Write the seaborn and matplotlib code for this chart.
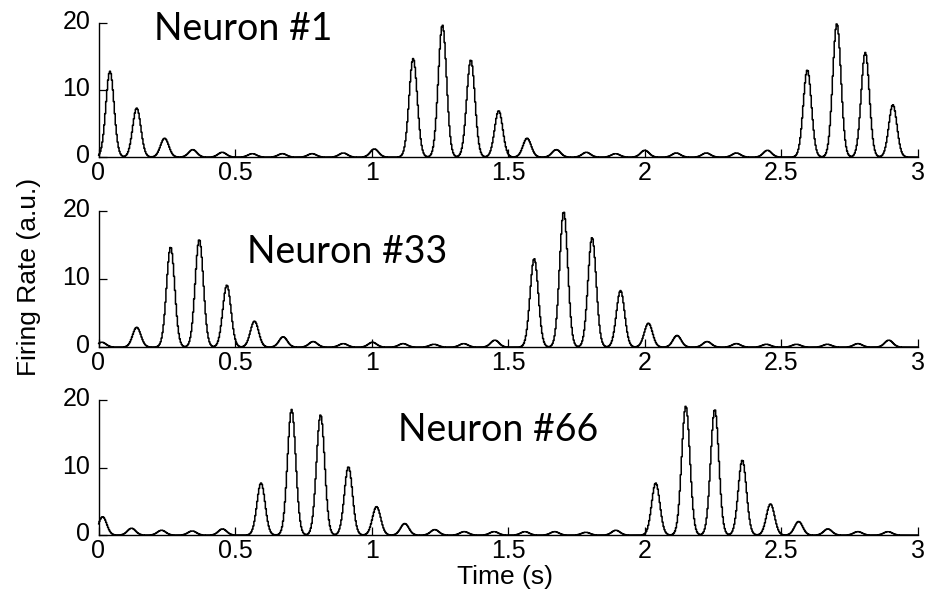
import numpy as np
import pandas as pd
import matplotlib
matplotlib.use("Agg")
import matplotlib.pyplot as plt
from matplotlib.transforms import ScaledTranslation
import seaborn as sns

# Peak times (s) and peak firing rates (a.u.) of each theta-cycle burst
neuron_names = ["Neuron #1", "Neuron #33", "Neuron #66"]

n1_peak_times = [0.042, 0.140, 0.242, 0.345, 0.453, 0.563, 0.673, 0.782, 0.896, 1.010,
                 1.152, 1.259, 1.363, 1.465, 1.569, 1.676, 1.786, 1.893, 2.000,
                 2.115, 2.225, 2.335, 2.449, 2.595, 2.703, 2.807, 2.908]
n1_peak_rates = [12.8, 7.3, 2.8, 1.1, 0.7, 0.5, 0.5, 0.5, 0.6, 1.2,
                 14.7, 19.7, 14.5, 6.9, 2.8, 1.1, 0.7, 0.5, 1.0,
                 0.6, 0.6, 0.6, 1.0, 13.0, 19.9, 15.6, 7.8]

n33_peak_times = [0.012, 0.140, 0.264, 0.369, 0.470, 0.571, 0.676, 0.786, 0.896, 1.003,
                  1.115, 1.228, 1.337, 1.451, 1.595, 1.703, 1.807, 1.911, 2.013,
                  2.118, 2.228, 2.335, 2.445, 2.555, 2.668, 2.780, 2.893]
n33_peak_rates = [0.7, 2.9, 14.7, 15.8, 9.1, 3.8, 1.5, 0.8, 0.5, 0.7,
                  0.5, 0.4, 0.5, 1.0, 13.0, 19.9, 16.1, 8.3, 3.5,
                  1.7, 0.8, 0.5, 0.4, 0.4, 0.4, 0.5, 1.0]

n66_peak_times = [0.015, 0.121, 0.231, 0.343, 0.454, 0.595, 0.707, 0.813, 0.915, 1.018,
                  1.121, 1.231, 1.339, 1.448, 1.561, 1.670, 1.784, 1.894, 2.040,
                  2.150, 2.256, 2.357, 2.460, 2.563, 2.670, 2.780, 2.890]
n66_peak_rates = [2.7, 1.0, 0.7, 0.6, 0.9, 7.7, 18.6, 17.8, 10.1, 4.2,
                  1.7, 0.8, 0.5, 0.5, 0.5, 0.5, 0.4, 0.7, 7.7,
                  19.1, 18.6, 11.1, 4.6, 2.0, 0.9, 0.5, 0.5]

x_ticks = [0, 0.5, 1, 1.5, 2, 2.5, 3]
x_tick_labels = ["0", "0.5", "1", "1.5", "2", "2.5", "3"]
y_ticks = [0, 10, 20]
y_tick_labels = ["0", "10", "20"]

BIN = 0.0035      # rate histogram bin width (s)
BURST_SD = 0.015  # temporal spread of each burst (s)


def rate_trace(peak_times, peak_rates):
    t = np.arange(0, 3 + BIN / 2, BIN)
    r = np.zeros_like(t)
    for c, h in zip(peak_times, peak_rates):
        r += h * np.exp(-0.5 * ((t - c) / BURST_SD) ** 2)
    return pd.DataFrame({"time": t, "rate": r})


traces = [rate_trace(n1_peak_times, n1_peak_rates),
          rate_trace(n33_peak_times, n33_peak_rates),
          rate_trace(n66_peak_times, n66_peak_rates)]

sns.set_theme(style="ticks")
plt.rcParams["font.family"] = ["Liberation Sans", "DejaVu Sans"]

W, H = 939, 597
fig = plt.figure(figsize=(W / 100, H / 100), dpi=100)

# axes rectangles in pixels: (left, bottom-y, right, top-y)
rects = [(98.5, 157, 918, 23), (98.5, 347, 918, 211), (98.5, 535, 918, 400)]
# neuron label anchors in pixels: (left x, baseline y)
title_pos = [(154, 40), (247, 263), (398, 441)]

axes = []
for (l, b, r, t), df, name, (tx, ty) in zip(rects, traces, neuron_names, title_pos):
    ax = fig.add_axes([l / W, 1 - b / H, (r - l) / W, (b - t) / H])
    sns.lineplot(data=df, x="time", y="rate", ax=ax, color="black",
                 linewidth=1.1, drawstyle="steps-mid", clip_on=False)
    ax.set_xlim(0, 3)
    ax.set_ylim(0, 20)
    ax.set_xticks(x_ticks)
    ax.set_xticklabels(x_tick_labels)
    ax.set_yticks(y_ticks)
    ax.set_yticklabels(y_tick_labels)
    ax.tick_params(direction="in", length=6, width=0.9, labelsize=18,
                   colors="black", pad=3)
    ax.tick_params(axis="y", pad=6)
    for s in ["top", "right"]:
        ax.spines[s].set_visible(False)
    for s in ["left", "bottom"]:
        ax.spines[s].set_linewidth(1.0)
        ax.spines[s].set_color("black")
    ax.set_xlabel("")
    ax.set_ylabel("")
    ax.patch.set_alpha(0)
    fig.text(tx / W, 1 - ty / H, name, family=["Lato", "DejaVu Sans"],
             fontsize=27, ha="left", va="baseline", color="black")
    axes.append(ax)

fig.text(505 / W, 1 - 577 / H, "Time (s)", fontsize=19, ha="center",
         va="center", color="black")
fig.text(29 / W, 1 - 277 / H, "Firing Rate (a.u.)", fontsize=19, ha="center",
         va="center", rotation=90, color="black")

# raise the y tick labels slightly above their ticks
fig.canvas.draw()
lift = ScaledTranslation(0, 3.5 / 100, fig.dpi_scale_trans)
for ax in axes:
    for tick in ax.yaxis.get_major_ticks():
        tick.label1.set_transform(tick.label1.get_transform() + lift)

fig.savefig("out.png", dpi=100, facecolor="white")
